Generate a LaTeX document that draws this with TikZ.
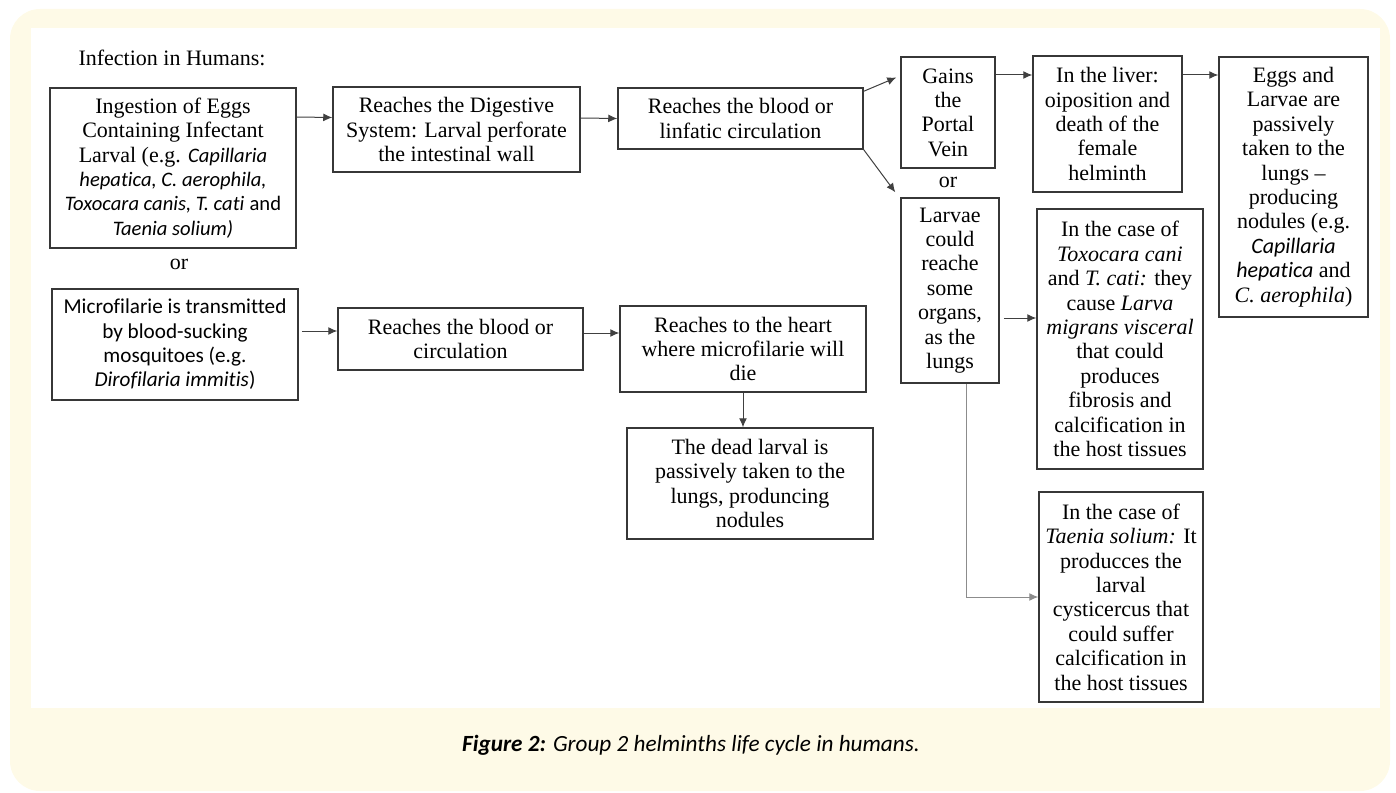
\documentclass[tikz,border=0pt]{standalone}
\usepackage{fontspec}
\usepackage{xcolor}
\usepackage{tikz}
\usetikzlibrary{arrows.meta}
\setmainfont{Liberation Serif}
\newfontfamily\calibri[Ligatures=NoCommon]{Carlito}
\newcommand{\spp}[1]{{\calibri\itshape #1}}
\definecolor{cream}{RGB}{254,250,231}
\definecolor{boxline}{RGB}{55,55,55}

\begin{document}
\begin{tikzpicture}[x=0.5pt,y=-0.5pt,
	box/.style={draw=boxline, line width=0.75pt, align=center, inner sep=0pt,
		font=\fontsize{11}{12.2}\selectfont},
	arr/.style={draw=black!75, line width=0.5pt, -{Latex[length=4.5pt,width=4pt]}}]
	\useasboundingbox (0,0) rectangle (1396,792);
	\fill[cream, rounded corners=15pt] (10,9) rectangle (1390,791);
	\fill[white] (31,28) rectangle (1380,708);

	% first route: eggs
	\draw (172,58) node[font=\fontsize{11}{12.2}\selectfont] (title) {Infection in Humans:};
	\draw (173,168) node[box, minimum width=123pt, minimum height=80pt] (ingest) {Ingestion of Eggs\\Containing Infectant\\Larval (e.g. {\fontsize{10.3}{12.2}\selectfont\spp{Capillaria}}\\{\fontsize{10.3}{12.2}\selectfont\spp{hepatica, C. aerophila,}}\\{\fontsize{10.3}{12.2}\selectfont\spp{Toxocara canis, T. cati} {\calibri and}}\\{\fontsize{10.3}{12.2}\selectfont\spp{Taenia solium)}}};
	\draw (179,264) node[font=\fontsize{11}{12.2}\selectfont] (or1) {or};
	\draw (456.5,129.5) node[box, minimum width=123.5pt, minimum height=42.5pt] (digest) {Reaches the Digestive\\System: Larval perforate\\the intestinal wall};
	\draw (740.5,118.5) node[box, minimum width=122.5pt, minimum height=30.5pt] (blood) {Reaches the blood or\\linfatic circulation};
	\draw (948,112.5) node[box, minimum width=47pt, minimum height=55.5pt] (portal) {Gains\\the\\Portal\\Vein};
	\draw (948,182) node[font=\fontsize{11}{12.2}\selectfont] (or2) {or};
	\draw (950,290.5) node[box, minimum width=49pt, minimum height=92.5pt] (organs) {Larvae\\could\\reache\\some\\organs,\\as the\\lungs};
	\draw (1107.5,124) node[box, minimum width=74.5pt, minimum height=68pt] (liver) {In the liver:\\oiposition and\\death of the\\female\\helminth};
	\draw (1293.5,187) node[box, minimum width=74.5pt, minimum height=130pt] (lungs) {Eggs and\\Larvae are\\passively\\taken to the\\lungs --\\producing\\nodules (e.g.\\\spp{Capillaria}\\\spp{hepatica} and\\\textit{C. aerophila})};
	\draw (1120,339) node[box, minimum width=83pt, minimum height=130pt] (toxo) {In the case of\\\textit{Toxocara cani}\\and \textit{T. cati:} they\\cause \textit{Larva}\\\textit{migrans visceral}\\that could\\produces\\fibrosis and\\calcification in\\the host tissues};
	\draw (1121,597) node[box, minimum width=82pt, minimum height=105pt] (taenia) {In the case of\\\textit{Taenia solium:} It\\producces the\\larval\\cysticercus that\\could suffer\\calcification in\\the host tissues};

	% second route: mosquitoes
	\draw (175,344.5) node[box, minimum width=123pt, minimum height=55.5pt, font=\calibri\fontsize{10.6}{12.2}\selectfont] (mosq) {Microfilarie is transmitted\\by blood-sucking\\mosquitoes (e.g.\\\textit{Dirofilaria immitis})};
	\draw (460.5,339) node[box, minimum width=122.5pt, minimum height=31pt] (circ) {Reaches the blood or\\circulation};
	\draw (743,349) node[box, minimum width=123pt, minimum height=43pt] (heart) {Reaches to the heart\\where microfilarie will\\die};
	\draw (750,483.5) node[box, minimum width=123pt, minimum height=55.5pt] (dead) {The dead larval is\\passively taken to the\\lungs, produncing\\nodules};

	% arrows
	\draw[arr] ([yshift=25.5pt]ingest.east) -- ([yshift=6pt]digest.west);
	\draw[arr] ([yshift=5.75pt]digest.east) -- (blood.west);
	\draw[arr] ([yshift=-2pt]blood.north east) -- ([xshift=-2pt,yshift=17.5pt]portal.west);
	\draw[arr] (blood.south east) -- ([xshift=-2.5pt,yshift=2.5pt]organs.north west);
	\draw[arr] ([yshift=18.75pt]portal.east) -- ([yshift=24.5pt]liver.west);
	\draw[arr] ([yshift=24.5pt]liver.east) -- ([yshift=56pt]lungs.west);
	\draw[arr] ([xshift=2pt,yshift=-13.75pt]organs.east) -- ([yshift=10.5pt]toxo.west);
	\draw[arr, draw=black!45] ([xshift=8pt]organs.south) |- (taenia.west);
	\draw[arr] ([xshift=1.5pt,yshift=6.75pt]mosq.east) -- ([yshift=4pt]circ.west);
	\draw[arr] ([yshift=3pt]circ.east) -- ([yshift=8pt]heart.west);
	\draw[arr] (heart.south) -- (heart.south |- dead.north);

	% caption
	\draw (691,745) node[font=\calibri\itshape\fontsize{11.6}{13}\selectfont] (caption) {\textbf{Figure 2:} Group 2 helminths life cycle in humans.};
\end{tikzpicture}
\end{document}
